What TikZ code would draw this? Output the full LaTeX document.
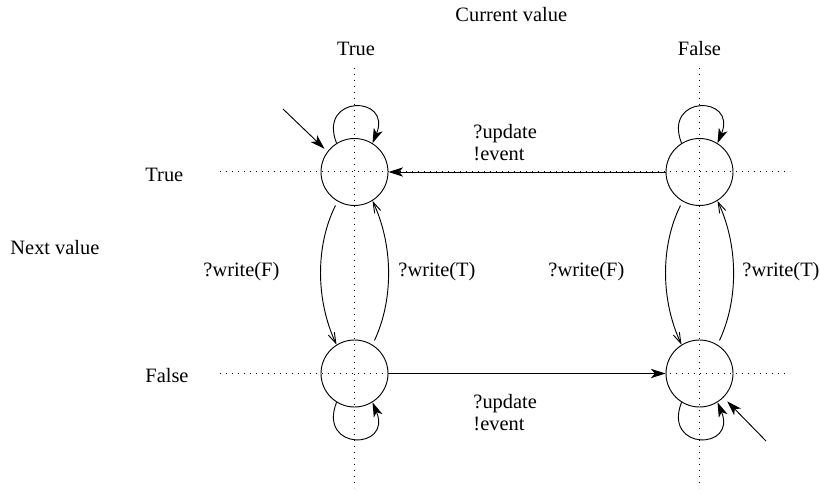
\documentclass[tikz,border=0pt]{standalone}
\usepackage{fontspec}
\setmainfont{Liberation Serif}
\usepackage{tikz}
\usetikzlibrary{arrows.meta,calc}

\begin{document}
\begin{tikzpicture}[x=0.75pt, y=-0.75pt, line width=0.7pt,
  font=\fontsize{15.3}{16.5}\selectfont,
  >={Stealth[length=11pt,width=7pt,inset=3pt]},
  state/.style={draw, circle, minimum size=50.25pt, inner sep=0pt},
  lbl/.style={inner sep=0pt, anchor=west, align=left},
  guide/.style={line width=0.75pt, dash pattern=on 0.8pt off 3.7pt},
  wr/.style={-{Straight Barb[length=8pt,width=5pt]}, shorten <=3.5pt}]
\useasboundingbox (0,0) rectangle (820,495);
% dotted grid: columns = current value, rows = next value
\foreach \x in {354.5, 699.5}
  \draw[guide] (\x,68) -- (\x,488);
\foreach \y in {172, 373.5}
  \draw[guide] (220,\y) -- (790,\y);
% axis captions
\node[lbl] (cur) at (455,15) {Current value};
\node[inner sep=0pt] (ct) at (356,49) {True};
\node[inner sep=0pt] (cf) at (699.5,49) {False};
\node[lbl] (nxt) at (10,248) {Next value};
\node[lbl] (nt) at (145,175) {True};
\node[lbl] (nf) at (145,376) {False};
% states (next/current)
\node[state] (tt) at (354.5,172) {};
\node[state] (ft) at (699.5,172) {};
\node[state] (tf) at (354.5,373.5) {};
\node[state] (ff) at (699.5,373.5) {};
% self loops
\foreach \s in {tt, ft}
  \draw[->] (\s.122) .. controls +(-19,-49) and +(20,-48) .. (\s.58);
\foreach \s in {tf, ff}
  \draw[->] (\s.238) .. controls +(-19,49) and +(20,48) .. (\s.302);
% writes inside one column
\foreach \a/\b in {tt/tf, ft/ff}{
  \draw[wr] (\a.240) .. controls +(-22,44) and +(-21,-45) .. (\b.122);
  \draw[wr] (\b.58) .. controls +(21,-45) and +(21,45) .. (\a.-58);
}
\node[lbl] (wf1) at (203,272) {?write(F)};
\node[lbl] (wt1) at (398,272) {?write(T)};
\node[lbl] (wf2) at (548,272) {?write(F)};
\node[lbl] (wt2) at (742,272) {?write(T)};
% updates across columns
\draw[->] (ft) -- (tt);
\draw[->] (tf) -- (ff);
\node[lbl] (up1) at (473,143) {?update\\!event};
\node[lbl] (up2) at (473,413) {?update\\!event};
% initial states
\coordinate (i1) at (283,109);
\coordinate (i2) at (766,441);
\draw[->, shorten >=3pt] (i1) -- (tt.143);
\draw[->, shorten >=4pt] (i2) -- (ff.-45);
\end{tikzpicture}
\end{document}
